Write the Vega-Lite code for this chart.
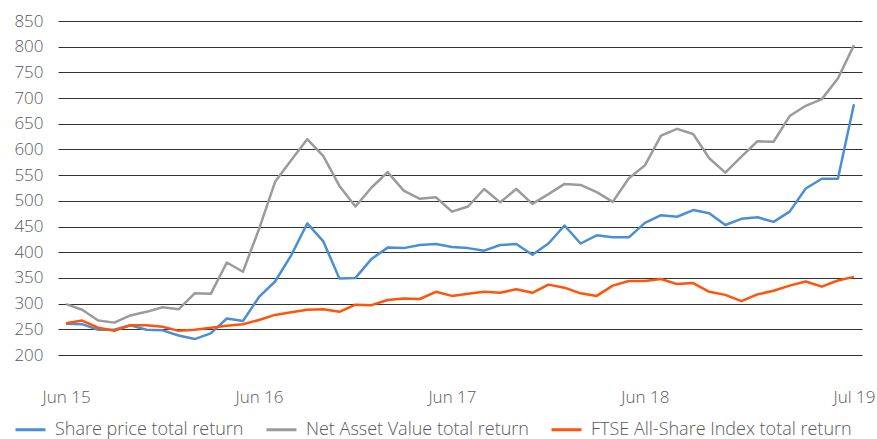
{
  "$schema": "https://vega.github.io/schema/vega-lite/v6.json",
  "width": 804,
  "height": 334,
  "autosize": "none",
  "padding": {"left": 58, "top": 21, "right": 15, "bottom": 84},
  "background": "white",
  "config": {
    "view": {"stroke": null},
    "font": "Open Sans",
    "axis": {"labelFont": "Open Sans", "labelFontWeight": 300, "labelColor": "#595959", "labelFontSize": 17},
    "legend": {"labelFont": "Open Sans", "labelFontWeight": 300, "labelColor": "#595959", "labelFontSize": 18}
  },
  "data": {
    "values": [
      {"m": "Jun 15", "Share price total return": 261, "Net Asset Value total return": 299, "FTSE All-Share Index total return": 262},
      {"m": "Jul 15", "Share price total return": 260, "Net Asset Value total return": 288, "FTSE All-Share Index total return": 267},
      {"m": "Aug 15", "Share price total return": 249, "Net Asset Value total return": 267, "FTSE All-Share Index total return": 253},
      {"m": "Sep 15", "Share price total return": 249, "Net Asset Value total return": 263, "FTSE All-Share Index total return": 247},
      {"m": "Oct 15", "Share price total return": 258, "Net Asset Value total return": 277, "FTSE All-Share Index total return": 258},
      {"m": "Nov 15", "Share price total return": 249, "Net Asset Value total return": 284, "FTSE All-Share Index total return": 258},
      {"m": "Dec 15", "Share price total return": 248, "Net Asset Value total return": 293, "FTSE All-Share Index total return": 255},
      {"m": "Jan 16", "Share price total return": 238, "Net Asset Value total return": 289, "FTSE All-Share Index total return": 247},
      {"m": "Feb 16", "Share price total return": 231, "Net Asset Value total return": 320, "FTSE All-Share Index total return": 249},
      {"m": "Mar 16", "Share price total return": 242, "Net Asset Value total return": 319, "FTSE All-Share Index total return": 253},
      {"m": "Apr 16", "Share price total return": 271, "Net Asset Value total return": 380, "FTSE All-Share Index total return": 257},
      {"m": "May 16", "Share price total return": 266, "Net Asset Value total return": 362, "FTSE All-Share Index total return": 260},
      {"m": "Jun 16", "Share price total return": 313, "Net Asset Value total return": 445, "FTSE All-Share Index total return": 268},
      {"m": "Jul 16", "Share price total return": 343, "Net Asset Value total return": 537, "FTSE All-Share Index total return": 278},
      {"m": "Aug 16", "Share price total return": 394, "Net Asset Value total return": 579, "FTSE All-Share Index total return": 283},
      {"m": "Sep 16", "Share price total return": 456, "Net Asset Value total return": 620, "FTSE All-Share Index total return": 288},
      {"m": "Oct 16", "Share price total return": 421, "Net Asset Value total return": 587, "FTSE All-Share Index total return": 289},
      {"m": "Nov 16", "Share price total return": 349, "Net Asset Value total return": 529, "FTSE All-Share Index total return": 284},
      {"m": "Dec 16", "Share price total return": 350, "Net Asset Value total return": 489, "FTSE All-Share Index total return": 298},
      {"m": "Jan 17", "Share price total return": 387, "Net Asset Value total return": 526, "FTSE All-Share Index total return": 297},
      {"m": "Feb 17", "Share price total return": 409, "Net Asset Value total return": 556, "FTSE All-Share Index total return": 307},
      {"m": "Mar 17", "Share price total return": 408, "Net Asset Value total return": 520, "FTSE All-Share Index total return": 310},
      {"m": "Apr 17", "Share price total return": 414, "Net Asset Value total return": 504, "FTSE All-Share Index total return": 309},
      {"m": "May 17", "Share price total return": 416, "Net Asset Value total return": 507, "FTSE All-Share Index total return": 323},
      {"m": "Jun 17", "Share price total return": 410, "Net Asset Value total return": 479, "FTSE All-Share Index total return": 315},
      {"m": "Jul 17", "Share price total return": 408, "Net Asset Value total return": 489, "FTSE All-Share Index total return": 319},
      {"m": "Aug 17", "Share price total return": 403, "Net Asset Value total return": 523, "FTSE All-Share Index total return": 323},
      {"m": "Sep 17", "Share price total return": 414, "Net Asset Value total return": 497, "FTSE All-Share Index total return": 321},
      {"m": "Oct 17", "Share price total return": 416, "Net Asset Value total return": 523, "FTSE All-Share Index total return": 328},
      {"m": "Nov 17", "Share price total return": 395, "Net Asset Value total return": 494, "FTSE All-Share Index total return": 321},
      {"m": "Dec 17", "Share price total return": 417, "Net Asset Value total return": 513, "FTSE All-Share Index total return": 337},
      {"m": "Jan 18", "Share price total return": 452, "Net Asset Value total return": 533, "FTSE All-Share Index total return": 331},
      {"m": "Feb 18", "Share price total return": 417, "Net Asset Value total return": 531, "FTSE All-Share Index total return": 320},
      {"m": "Mar 18", "Share price total return": 433, "Net Asset Value total return": 517, "FTSE All-Share Index total return": 315},
      {"m": "Apr 18", "Share price total return": 429, "Net Asset Value total return": 498, "FTSE All-Share Index total return": 335},
      {"m": "May 18", "Share price total return": 429, "Net Asset Value total return": 544, "FTSE All-Share Index total return": 344},
      {"m": "Jun 18", "Share price total return": 457, "Net Asset Value total return": 569, "FTSE All-Share Index total return": 344},
      {"m": "Jul 18", "Share price total return": 472, "Net Asset Value total return": 627, "FTSE All-Share Index total return": 348},
      {"m": "Aug 18", "Share price total return": 469, "Net Asset Value total return": 640, "FTSE All-Share Index total return": 338},
      {"m": "Sep 18", "Share price total return": 482, "Net Asset Value total return": 630, "FTSE All-Share Index total return": 340},
      {"m": "Oct 18", "Share price total return": 476, "Net Asset Value total return": 583, "FTSE All-Share Index total return": 323},
      {"m": "Nov 18", "Share price total return": 453, "Net Asset Value total return": 555, "FTSE All-Share Index total return": 317},
      {"m": "Dec 18", "Share price total return": 465, "Net Asset Value total return": 586, "FTSE All-Share Index total return": 305},
      {"m": "Jan 19", "Share price total return": 468, "Net Asset Value total return": 616, "FTSE All-Share Index total return": 318},
      {"m": "Feb 19", "Share price total return": 459, "Net Asset Value total return": 615, "FTSE All-Share Index total return": 325},
      {"m": "Mar 19", "Share price total return": 479, "Net Asset Value total return": 665, "FTSE All-Share Index total return": 335},
      {"m": "Apr 19", "Share price total return": 524, "Net Asset Value total return": 685, "FTSE All-Share Index total return": 343},
      {"m": "May 19", "Share price total return": 543, "Net Asset Value total return": 698, "FTSE All-Share Index total return": 333},
      {"m": "Jun 19", "Share price total return": 543, "Net Asset Value total return": 738, "FTSE All-Share Index total return": 345},
      {"m": "Jul 19", "Share price total return": 688, "Net Asset Value total return": 803, "FTSE All-Share Index total return": 352}
    ]
  },
  "transform": [
    {"fold": ["Share price total return", "Net Asset Value total return", "FTSE All-Share Index total return"], "as": ["series", "value"]}
  ],
  "mark": {"type": "line", "strokeWidth": 2.5, "strokeJoin": "round"},
  "encoding": {
    "x": {
      "field": "m",
      "type": "ordinal",
      "sort": null,
      "scale": {"type": "point", "padding": 0.5},
      "axis": {
        "title": null,
        "values": ["Jun 15", "Jun 16", "Jun 17", "Jun 18", "Jul 19"],
        "ticks": false,
        "domain": false,
        "grid": false,
        "labelAngle": 0,
        "labelPadding": 34
      }
    },
    "y": {
      "field": "value",
      "type": "quantitative",
      "scale": {"domain": [200, 850], "nice": false, "zero": false},
      "axis": {
        "title": null,
        "values": [200, 250, 300, 350, 400, 450, 500, 550, 600, 650, 700, 750, 800, 850],
        "ticks": false,
        "domain": false,
        "grid": true,
        "gridColor": "#333333",
        "gridWidth": 1,
        "labelPadding": 15
      }
    },
    "color": {
      "field": "series",
      "type": "nominal",
      "scale": {
        "domain": ["Share price total return", "Net Asset Value total return", "FTSE All-Share Index total return"],
        "range": ["#4a8fd5", "#9b9b9b", "#ff5409"]
      },
      "legend": {
        "title": null,
        "orient": "none",
        "legendX": -44,
        "legendY": 392,
        "direction": "horizontal",
        "symbolType": "stroke",
        "symbolSize": 900,
        "symbolStrokeWidth": 3,
        "labelOffset": 8,
        "labelLimit": 400,
        "columnPadding": 16
      }
    }
  }
}
